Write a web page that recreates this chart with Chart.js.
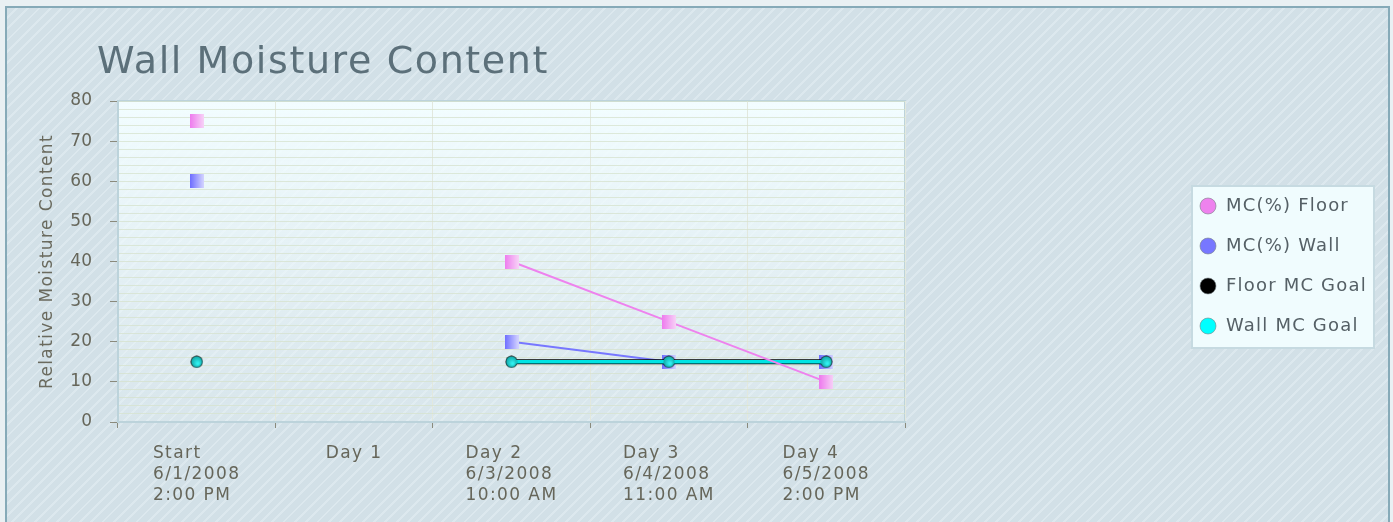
<!DOCTYPE html>
<html lang="en">
<head>
    <meta charset="UTF-8">
    <title>Wall Moisture Content</title>
    <script src="https://cdn.jsdelivr.net/npm/chart.js"></script>
    <style>
        html, body { margin: 0; padding: 0; background: #e9f0f3; }
        /* striped panel behind the chart */
        .frame {
            position: absolute; left: 5px; top: 6px; width: 1381px; height: 560px;
            border: 2px solid #86aab8;
            background: repeating-linear-gradient(135deg, #d2e0e7 0 6px, #dce8ee 6px 8px);
        }
        .wrap { position: absolute; left: 0; top: 0; width: 1393px; height: 522px; }
    </style>
</head>
<body>
    <div class="frame"></div>
    <div class="wrap"><canvas id="chart" width="1393" height="522"></canvas></div>

    <script>
        // Data
        const categories = [
            ['Start', '6/1/2008', '2:00 PM'],
            ['Day 1'],
            ['Day 2', '6/3/2008', '10:00 AM'],
            ['Day 3', '6/4/2008', '11:00 AM'],
            ['Day 4', '6/5/2008', '2:00 PM']
        ];
        const floorMC   = [75, null, 40, 25, 10];
        const wallMC    = [60, null, 20, 15, 15];
        const floorGoal = [15, null, 15, 15, 15];
        const wallGoal  = [15, null, 15, 15, 15];

        const seriesNames = ['MC(%) Floor', 'MC(%) Wall', 'Floor MC Goal', 'Wall MC Goal'];
        const seriesColors = ['#ee82ee', '#7777ff', '#000000', '#00ffff'];

        const textColor = '#66665a';

        // small square marker with a left-to-right fade
        function squareMarker(color, light) {
            const c = document.createElement('canvas');
            c.width = 14; c.height = 14;
            const g = c.getContext('2d');
            const grad = g.createLinearGradient(0, 0, 14, 0);
            grad.addColorStop(0, color);
            grad.addColorStop(1, light);
            g.fillStyle = grad;
            g.fillRect(0, 0, 14, 14);
            return c;
        }

        // round marker with shading
        function roundMarker(inner, outer, size) {
            const c = document.createElement('canvas');
            c.width = size; c.height = size;
            const g = c.getContext('2d');
            const r = size / 2;
            const grad = g.createRadialGradient(r * 1.2, r * 1.3, 1, r, r, r);
            grad.addColorStop(0, inner);
            grad.addColorStop(1, outer);
            g.fillStyle = grad;
            g.beginPath();
            g.arc(r, r, r - 0.5, 0, Math.PI * 2);
            g.fill();
            return c;
        }

        const markers = [
            squareMarker('#ee7aee', '#f7d2f7'),
            squareMarker('#6c6cff', '#d4d4ff'),
            roundMarker('#333333', '#000000', 13),
            roundMarker('#30f0f0', '#10a0a0', 12)
        ];

        // plot background + box
        const plotBackground = {
            id: 'plotBackground',
            beforeDraw(chart) {
                const { ctx, chartArea: a } = chart;
                ctx.save();
                const grad = ctx.createLinearGradient(0, a.top, 0, a.bottom);
                grad.addColorStop(0, 'rgba(242,253,255,1)');
                grad.addColorStop(1, 'rgba(236,247,250,0.25)');
                ctx.fillStyle = grad;
                ctx.fillRect(a.left, a.top, a.right - a.left, a.bottom - a.top);
                ctx.strokeStyle = '#bcd3db';
                ctx.lineWidth = 2;
                ctx.strokeRect(a.left, a.top, a.right - a.left, a.bottom - a.top);
                ctx.restore();
            }
        };

        // title, axis title, left aligned x labels and the boxed legend
        const extras = {
            id: 'extras',
            afterDraw(chart) {
                const { ctx, chartArea: a } = chart;
                const xs = chart.scales.x;
                ctx.save();

                // title
                ctx.fillStyle = '#5c707a';
                ctx.font = '38px "DejaVu Sans", sans-serif';
                ctx.letterSpacing = '1.6px';
                ctx.textBaseline = 'alphabetic';
                ctx.textAlign = 'left';
                ctx.fillText('Wall Moisture Content', 97, 73);

                // y axis title
                ctx.save();
                ctx.translate(48, (a.top + a.bottom) / 2);
                ctx.rotate(-Math.PI / 2);
                ctx.font = '17px "DejaVu Sans", sans-serif';
                ctx.letterSpacing = '1.4px';
                ctx.fillStyle = '#6a6a5e';
                ctx.textAlign = 'center';
                ctx.textBaseline = 'middle';
                ctx.fillText('Relative Moisture Content', 0, 0);
                ctx.restore();

                // category labels, block centred on the tick, lines left aligned
                ctx.letterSpacing = '1.4px';
                ctx.font = '17px "DejaVu Sans", sans-serif';
                ctx.fillStyle = textColor;
                ctx.textBaseline = 'middle';
                categories.forEach((lines, i) => {
                    const cx = xs.getPixelForValue(i);
                    const w = Math.max(...lines.map(l => ctx.measureText(l).width));
                    lines.forEach((l, k) => ctx.fillText(l, cx - w / 2, a.bottom + 32 + k * 21));
                });

                // legend box
                const lx = 1192, ly = 186, lw = 182, lh = 162;
                ctx.fillStyle = '#f0fcfe';
                ctx.fillRect(lx, ly, lw, lh);
                ctx.strokeStyle = '#c6dae1';
                ctx.lineWidth = 2;
                ctx.strokeRect(lx, ly, lw, lh);
                ctx.font = '18px "DejaVu Sans", sans-serif';
                ctx.letterSpacing = '1.2px';
                seriesNames.forEach((name, i) => {
                    const y = ly + 20 + i * 40;
                    ctx.beginPath();
                    ctx.arc(lx + 16, y, 8, 0, Math.PI * 2);
                    ctx.fillStyle = seriesColors[i];
                    ctx.fill();
                    ctx.strokeStyle = 'rgba(120,130,135,0.6)';
                    ctx.lineWidth = 1;
                    ctx.stroke();
                    ctx.fillStyle = '#556066';
                    ctx.fillText(name, lx + 34, y);
                });
                ctx.restore();
            }
        };

        new Chart(document.getElementById('chart'), {
            type: 'line',
            data: {
                labels: categories,
                datasets: [
                    {
                        label: seriesNames[0], data: floorMC, order: 0,
                        borderColor: seriesColors[0], borderWidth: 2,
                        pointStyle: markers[0]
                    },
                    {
                        label: seriesNames[1], data: wallMC, order: 3,
                        borderColor: seriesColors[1], borderWidth: 2,
                        pointStyle: markers[1]
                    },
                    {
                        label: seriesNames[2], data: floorGoal, order: 2,
                        borderColor: seriesColors[2], borderWidth: 5,
                        pointStyle: markers[2]
                    },
                    {
                        label: seriesNames[3], data: wallGoal, order: 1,
                        borderColor: '#00e4e4', borderWidth: 3.5,
                        pointStyle: markers[3]
                    }
                ]
            },
            options: {
                responsive: false,
                animation: false,
                spanGaps: false,
                layout: { padding: { left: 0, right: 488, top: 101, bottom: 0 } },
                plugins: {
                    legend: { display: false },
                    title: { display: false },
                    tooltip: { enabled: false }
                },
                scales: {
                    x: {
                        offset: true,
                        afterFit(s) { s.height = 100; },
                        grid: {
                            offset: true,
                            color: '#e2e8de',
                            tickColor: '#8a8a7c',
                            tickLength: 6
                        },
                        border: { color: '#bcd3db', width: 2 },
                        ticks: { color: 'transparent', font: { size: 14 } }
                    },
                    y: {
                        min: 0,
                        max: 80,
                        afterFit(s) { s.width = 118; },
                        ticks: {
                            stepSize: 2,
                            autoSkip: false,
                            padding: 18,
                            color: textColor,
                            font: { family: '"DejaVu Sans", sans-serif', size: 17 },
                            callback: v => (v % 10 === 0 ? v : '')
                        },
                        grid: {
                            color: 'rgba(214,226,204,0.75)',
                            tickColor: ctx => (ctx.tick && ctx.tick.value % 10 === 0 ? '#8a8a7c' : 'transparent'),
                            tickLength: 8
                        },
                        border: { color: '#bcd3db', width: 2 }
                    }
                }
            },
            plugins: [plotBackground, extras]
        });
    </script>
</body>
</html>
